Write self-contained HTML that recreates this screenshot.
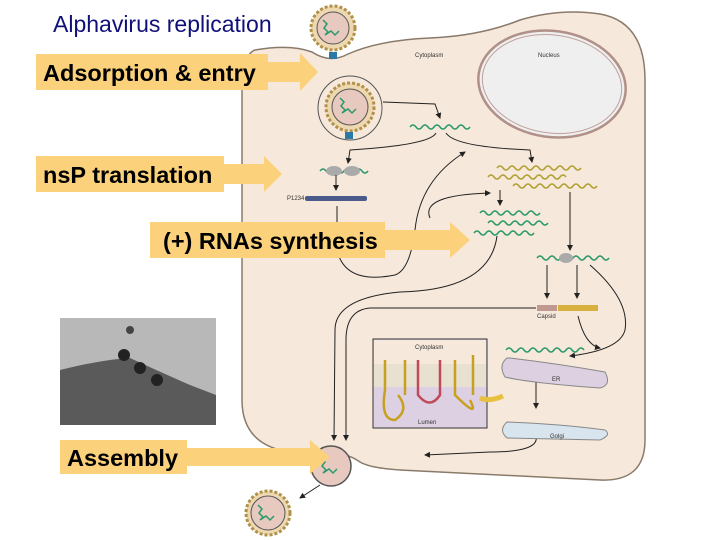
<!DOCTYPE html>
<html><head><meta charset="utf-8"><style>
html,body{margin:0;padding:0;background:#fff;}
svg{display:block;}
.lbl{font-family:"Liberation Sans",sans-serif;font-weight:bold;font-size:23.5px;fill:#000;}
.sm{font-family:"Liberation Sans",sans-serif;font-size:6px;fill:#333;}
</style></head><body>
<svg width="720" height="540" viewBox="0 0 720 540" xmlns="http://www.w3.org/2000/svg">
<defs>
<marker id="ah" markerWidth="6" markerHeight="6" refX="5" refY="3" orient="auto"><path d="M0,0 L6,3 L0,6z" fill="#222"/></marker>
</defs>
<path d="M255,50 Q290,44 312,52 Q330,64 348,54 Q380,40 430,38 Q480,36 520,20 Q560,8 600,14 Q645,22 645,80 L645,440 Q645,482 600,480 L400,470 Q370,468 360,462 Q340,448 320,458 Q300,462 280,450 Q242,440 242,400 L242,90 Q242,55 255,50z" fill="#f6e8da" stroke="#8a7a6a" stroke-width="1.5"/>
<ellipse cx="552" cy="84" rx="74" ry="53" transform="rotate(8 552 84)" fill="#efeff0" stroke="#b09088" stroke-width="2.5"/>
<ellipse cx="552" cy="84" rx="70" ry="49" transform="rotate(8 552 84)" fill="none" stroke="#c0a098" stroke-width="1"/>
<text class="sm" x="415" y="57">Cytoplasm</text>
<text class="sm" x="538" y="57">Nucleus</text>
<g>
<circle cx="333" cy="28" r="22" fill="#eed8b0" stroke="#b0904a" stroke-width="3" stroke-dasharray="3 2"/>
<circle cx="333" cy="28" r="16" fill="#e8c9c0" stroke="#555"/>
<path d="M323,20 l4,4 l-3,4 l4,4 l-3,3 l6,-4 l4,4 l4,-4" fill="none" stroke="#2a9a6a" stroke-width="1.5"/>
<circle cx="350" cy="108" r="32" fill="#f6e8da" stroke="#555"/>
<circle cx="350" cy="107" r="24" fill="#eed8b0" stroke="#b0904a" stroke-width="3" stroke-dasharray="3 2"/>
<circle cx="350" cy="107" r="18" fill="#e8c9c0" stroke="#555"/>
<path d="M340,98 l4,4 l-3,4 l4,4 l-3,3 l6,-4 l4,4 l4,-4" fill="none" stroke="#2a9a6a" stroke-width="1.5"/>
<rect x="345" y="132" width="8" height="7" fill="#2a7aa8"/>
<rect x="329" y="52" width="8" height="7" fill="#2a7aa8"/>
<circle cx="331" cy="466" r="20" fill="#e8c9c0" stroke="#555" stroke-width="1.5"/>
<path d="M321,458 l4,4 l-3,4 l4,4 l-3,3 l6,-4 l4,4 l4,-4" fill="none" stroke="#2a9a6a" stroke-width="1.5"/>
<circle cx="268" cy="513" r="22" fill="#eed8b0" stroke="#b0904a" stroke-width="3" stroke-dasharray="3 2"/>
<circle cx="268" cy="513" r="17" fill="#e8c9c0" stroke="#555"/>
<path d="M258,505 l4,4 l-3,4 l4,4 l-3,3 l6,-4 l4,4 l4,-4" fill="none" stroke="#2a9a6a" stroke-width="1.5"/>
</g>
<g fill="none" stroke="#2a9a6a" stroke-width="1.5">
<path d="M410,127 q3,-4 6,0 t6,0 t6,0 t6,0 t6,0 t6,0 t6,0 t6,0 t6,0 t6,0"/>
<path d="M320,171 q3,-4 6,0 t6,0 t6,0 t6,0 t6,0 t6,0 t6,0 t6,0"/>
<path d="M480,213 q3,-4 6,0 t6,0 t6,0 t6,0 t6,0 t6,0 t6,0 t6,0 t6,0 t6,0"/>
<path d="M488,223 q3,-4 6,0 t6,0 t6,0 t6,0 t6,0 t6,0 t6,0 t6,0 t6,0 t6,0"/>
<path d="M474,233 q3,-4 6,0 t6,0 t6,0 t6,0 t6,0 t6,0 t6,0 t6,0 t6,0 t6,0"/>
<path d="M537,258 q3,-4 6,0 t6,0 t6,0 t6,0 t6,0 t6,0 t6,0 t6,0 t6,0 t6,0 t6,0 t6,0"/>
<path d="M506,350 q3,-4 6,0 t6,0 t6,0 t6,0 t6,0 t6,0 t6,0 t6,0 t6,0 t6,0 t6,0 t6,0 t6,0"/>
</g>
<g fill="none" stroke="#b0a030" stroke-width="1.5">
<path d="M497,168 q3,-4 6,0 t6,0 t6,0 t6,0 t6,0 t6,0 t6,0 t6,0 t6,0 t6,0 t6,0 t6,0 t6,0 t6,0"/>
<path d="M488,177 q3,-4 6,0 t6,0 t6,0 t6,0 t6,0 t6,0 t6,0 t6,0 t6,0 t6,0 t6,0 t6,0 t6,0"/>
<path d="M513,186 q3,-4 6,0 t6,0 t6,0 t6,0 t6,0 t6,0 t6,0 t6,0 t6,0 t6,0 t6,0 t6,0 t6,0 t6,0"/>
</g>
<ellipse cx="334" cy="171" rx="8" ry="5" fill="#aaa"/><ellipse cx="352" cy="171" rx="8" ry="5" fill="#aaa"/>
<ellipse cx="566" cy="258" rx="7" ry="5" fill="#aaa"/>
<rect x="305" y="196" width="62" height="5" rx="2" fill="#4a5a8a"/>
<text class="sm" x="287" y="200">P1234</text>
<rect x="537" y="305" width="20" height="6" fill="#c09a90"/><rect x="558" y="305" width="40" height="6" fill="#d8b040"/>
<text class="sm" x="537" y="318">Capsid</text>
<g fill="none" stroke="#222" stroke-width="1" marker-end="url(#ah)">
<path d="M383,102 L435,104 L440,118"/>
<path d="M436,133 Q430,145 350,150 L348,163"/>
<path d="M446,133 Q455,147 530,150 L532,162"/>
<path d="M336,175 L336,190"/>
<path d="M337,206 L337,250 Q345,285 395,275 Q410,270 415,230 Q420,180 465,152"/>
<path d="M430,218 Q420,195 490,193"/>
<path d="M500,190 L500,205"/>
<path d="M570,192 L570,250"/>
<path d="M497,236 Q490,290 400,292 Q335,298 335,330 L334,440"/>
<path d="M536,308 L370,308 Q346,310 346,340 L346,440"/>
<path d="M547,265 L547,298"/>
<path d="M577,265 L577,298"/>
<path d="M590,265 Q630,300 625,330 Q620,350 570,356"/>
<path d="M578,316 Q585,345 600,348"/>
<path d="M536,378 L536,408"/>
<path d="M536,436 Q540,452 490,452 L425,455"/>
<path d="M320,485 L300,498"/>
</g>
<path d="M507,358 Q498,365 505,377 Q530,383 600,388 Q612,385 605,372 Q560,364 510,358z" fill="#ddd0e0" stroke="#888"/>
<path d="M507,422 Q498,430 507,438 L600,440 Q612,435 605,430 Q560,424 507,422z" fill="#d8e4ee" stroke="#888"/>
<text class="sm" x="552" y="381">ER</text>
<text class="sm" x="550" y="438">Golgi</text>
<rect x="373" y="339" width="114" height="89" fill="#ddd0e2" stroke="#333"/>
<rect x="374" y="340" width="112" height="24" fill="#f6e8da"/>
<rect x="374" y="364" width="112" height="23" fill="#e8e0d0"/>
<g fill="none" stroke="#c8a020" stroke-width="2.5">
<path d="M385,360 L385,390 Q380,420 395,420 Q410,410 398,395"/>
<path d="M405,360 L405,395"/>
<path d="M455,360 L455,395 Q480,420 470,400"/>
<path d="M473,355 L473,395"/>
</g>
<g fill="none" stroke="#c04a5a" stroke-width="2.5"><path d="M418,360 L418,395 Q430,410 440,395 L440,360"/></g>
<text class="sm" x="415" y="349">Cytoplasm</text>
<text class="sm" x="418" y="424">Lumen</text>
<path d="M503,396 Q490,402 480,398" fill="none" stroke="#e8c040" stroke-width="5"/>
<rect x="60" y="318" width="156" height="107" fill="#b8b8b8"/>
<path d="M60,370 Q100,360 130,358 Q160,372 190,385 L216,395 L216,425 L60,425z" fill="#5a5a5a"/>
<circle cx="124" cy="355" r="6" fill="#222"/><circle cx="140" cy="368" r="6" fill="#222"/><circle cx="157" cy="380" r="6" fill="#222"/><circle cx="130" cy="330" r="4" fill="#444"/>
<text x="53" y="32" font-family="Liberation Sans, sans-serif" font-size="23" fill="#10107a">Alphavirus replication</text>
<g fill="#fbd17c">
<rect x="36" y="54" width="232" height="36"/><path d="M268,62 L300,62 L300,53 L318,72 L300,91 L300,82 L268,82z"/>
<rect x="36" y="156" width="188" height="36"/><path d="M224,164 L264,164 L264,156 L282,174 L264,192 L264,184 L224,184z"/>
<rect x="150" y="222" width="235" height="36"/><path d="M385,230 L450,230 L450,222 L470,240 L450,258 L450,250 L385,250z"/>
<rect x="60" y="440" width="127" height="34"/><path d="M187,448 L310,448 L310,440 L330,457 L310,474 L310,466 L187,466z"/>
</g>
<text class="lbl" x="43" y="81">Adsorption &amp; entry</text>
<text class="lbl" x="43" y="183">nsP translation</text>
<text class="lbl" x="163" y="249">(+) RNAs synthesis</text>
<text class="lbl" x="67" y="466">Assembly</text>
</svg>
</body></html>
